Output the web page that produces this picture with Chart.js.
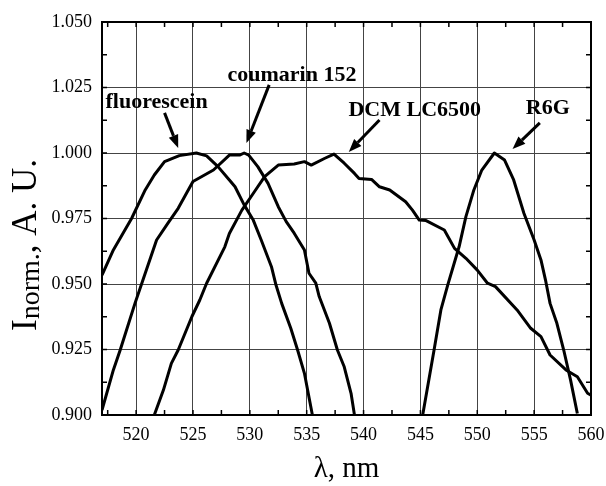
<!DOCTYPE html>
<html lang="en">

<head>
  <meta charset="UTF-8">
  <title>Normalized emission spectra</title>
  <script src="https://cdn.jsdelivr.net/npm/chart.js"></script>
  <style>
    body {
      margin: 0;
      background: #fff;
    }

    canvas {
      display: block;
    }
  </style>
</head>

<body>
  <canvas id="myChart" width="606" height="486"></canvas>

  <script>
    // wavelength (nm) / normalized intensity
    const fluoX = [517.0, 518.0, 519.6, 520.8, 521.6, 522.5, 523.8, 525.3, 526.2, 527.2, 528.2, 528.7, 529.5, 530.3, 531.0, 531.9, 532.3, 532.8, 533.6, 534.2, 534.8, 535.5];
    const fluoY = [0.9534, 0.963, 0.975, 0.9859, 0.9916, 0.9967, 0.999, 1.000, 0.9989, 0.9948, 0.9897, 0.9871, 0.9802, 0.9744, 0.9668, 0.9566, 0.9496, 0.9426, 0.9331, 0.9248, 0.9159, 0.900];

    const coumX = [517.0, 518.0, 518.6, 519.9, 520.6, 521.8, 522.8, 523.7, 525.0, 526.8, 528.2, 529.1, 529.5, 529.9, 530.7, 531.6, 532.5, 533.2, 533.9, 534.8, 535.2, 535.8, 536.1, 537.0, 537.7, 538.3, 538.9, 539.2];
    const coumY = [0.9019, 0.9172, 0.9248, 0.9426, 0.9515, 0.9668, 0.9732, 0.9789, 0.9891, 0.9935, 0.9992, 0.9992, 1.000, 0.9992, 0.9948, 0.9884, 0.9795, 0.9738, 0.9694, 0.963, 0.9541, 0.9503, 0.9452, 0.935, 0.9248, 0.9184, 0.9083, 0.900];

    const dcmX = [521.6, 522.4, 523.1, 523.7, 524.9, 525.6, 526.2, 527.8, 528.2, 529.3, 530.4, 531.3, 532.5, 533.9, 534.8, 535.4, 536.6, 537.4, 538.3, 539.2, 539.6, 540.7, 541.4, 542.3, 543.7, 544.3, 544.9, 545.5, 547.1, 548.0, 549.0, 550.0, 550.9, 551.6, 553.5, 554.7, 555.6, 556.4, 557.8, 558.8, 559.7, 560.0];
    const dcmY = [0.900, 0.9095, 0.9197, 0.9248, 0.9375, 0.9439, 0.9503, 0.9642, 0.9693, 0.9782, 0.9852, 0.991, 0.9954, 0.9958, 0.9967, 0.9954, 0.998, 0.9996, 0.9961, 0.9922, 0.9903, 0.9899, 0.9871, 0.9859, 0.9814, 0.9782, 0.9744, 0.9742, 0.9706, 0.9636, 0.9598, 0.9553, 0.9503, 0.949, 0.9401, 0.9331, 0.9299, 0.9229, 0.9172, 0.9146, 0.9083, 0.9076];

    const r6gX = [545.2, 546.2, 546.8, 547.4, 548.4, 549.0, 549.7, 550.4, 551.5, 552.4, 553.2, 554.1, 555.0, 555.6, 556.0, 556.4, 557.0, 557.6, 558.2, 558.8];
    const r6gY = [0.900, 0.9248, 0.9401, 0.9496, 0.9642, 0.9757, 0.9859, 0.9935, 1.000, 0.9973, 0.9897, 0.977, 0.9668, 0.9592, 0.9515, 0.9426, 0.935, 0.9248, 0.9134, 0.9006];

    const xTicks = [520, 525, 530, 535, 540, 545, 550, 555, 560];
    const yTicks = [0.900, 0.925, 0.950, 0.975, 1.000, 1.025, 1.050];

    // labels with arrows (data units)
    const labelText = ['fluorescein', 'coumarin 152', 'DCM LC6500', 'R6G'];
    const labelX = [521.8, 533.7, 544.5, 556.2];
    const labelY = [1.0195, 1.0298, 1.0164, 1.0172];
    const arrowFromX = [522.5, 531.7, 541.4, 555.5];
    const arrowFromY = [1.0153, 1.026, 1.0126, 1.0115];
    const arrowToX = [523.7, 529.7, 538.7, 553.1];
    const arrowToY = [1.0019, 1.0038, 1.0004, 1.0015];

    const serif = "'Liberation Serif', 'Times New Roman', serif";

    const pts = (xs, ys) => xs.map((x, i) => ({ x: x, y: ys[i] }));
    const line = (label, xs, ys) => ({
      label: label,
      data: pts(xs, ys),
      showLine: true,
      borderColor: '#000',
      borderWidth: 3,
      pointRadius: 0,
      tension: 0,
      borderJoinStyle: 'round'
    });

    // frame, inward ticks, axis titles and arrow labels
    const decor = {
      id: 'decor',
      afterDraw(chart) {
        const { ctx, chartArea: a, scales: { x, y } } = chart;
        ctx.save();

        // inward ticks on all four sides
        ctx.strokeStyle = '#000';
        ctx.lineWidth = 1.5;
        for (let v = 517.5; v < 560; v += 2.5) {
          const px = x.getPixelForValue(v);
          ctx.beginPath();
          ctx.moveTo(px, a.bottom); ctx.lineTo(px, a.bottom - 5);
          ctx.moveTo(px, a.top); ctx.lineTo(px, a.top + 5);
          ctx.stroke();
        }
        for (let v = 0.9125; v < 1.05; v += 0.0125) {
          const py = y.getPixelForValue(v);
          ctx.beginPath();
          ctx.moveTo(a.left, py); ctx.lineTo(a.left + 5, py);
          ctx.moveTo(a.right, py); ctx.lineTo(a.right - 5, py);
          ctx.stroke();
        }

        ctx.lineWidth = 2;
        ctx.strokeRect(a.left, a.top, a.right - a.left, a.bottom - a.top);

        // arrows
        ctx.fillStyle = '#000';
        labelText.forEach((t, i) => {
          const x0 = x.getPixelForValue(arrowFromX[i]), y0 = y.getPixelForValue(arrowFromY[i]);
          const x1 = x.getPixelForValue(arrowToX[i]), y1 = y.getPixelForValue(arrowToY[i]);
          const ang = Math.atan2(y1 - y0, x1 - x0);
          const hl = 13, hw = 5;
          const bx = x1 - hl * Math.cos(ang), by = y1 - hl * Math.sin(ang);
          ctx.lineWidth = 3;
          ctx.beginPath();
          ctx.moveTo(x0, y0); ctx.lineTo(bx, by);
          ctx.stroke();
          ctx.beginPath();
          ctx.moveTo(x1, y1);
          ctx.lineTo(bx + hw * Math.sin(ang), by - hw * Math.cos(ang));
          ctx.lineTo(bx - hw * Math.sin(ang), by + hw * Math.cos(ang));
          ctx.closePath();
          ctx.fill();

          ctx.font = 'bold 22px ' + serif;
          ctx.textAlign = 'center';
          ctx.textBaseline = 'middle';
          ctx.fillText(t, x.getPixelForValue(labelX[i]), y.getPixelForValue(labelY[i]));
        });

        // x title
        ctx.font = '29px ' + serif;
        ctx.textAlign = 'center';
        ctx.textBaseline = 'alphabetic';
        ctx.fillText('\u03bb, nm', (a.left + a.right) / 2, 477);

        // y title with subscript
        ctx.translate(36, 331);
        ctx.rotate(-Math.PI / 2);
        ctx.textAlign = 'left';
        let cx = 0;
        ctx.font = '35px ' + serif;
        ctx.fillText('I', cx, 0);
        cx += ctx.measureText('I').width;
        ctx.font = '28px ' + serif;
        ctx.fillText('norm.', cx, 3);
        cx += ctx.measureText('norm.').width;
        ctx.font = '35px ' + serif;
        ctx.fillText(', A. U.', cx, 0);

        ctx.restore();
      }
    };

    new Chart(document.getElementById('myChart'), {
      type: 'scatter',
      data: {
        datasets: [
          line('fluorescein', fluoX, fluoY),
          line('coumarin 152', coumX, coumY),
          line('DCM LC6500', dcmX, dcmY),
          line('R6G', r6gX, r6gY)
        ]
      },
      options: {
        responsive: false,
        animation: false,
        layout: { padding: { top: 22, right: 15, left: 0, bottom: 0 } },
        plugins: {
          legend: { display: false },
          tooltip: { enabled: false }
        },
        scales: {
          x: {
            type: 'linear',
            min: 517,
            max: 560,
            afterBuildTicks: s => { s.ticks = xTicks.map(v => ({ value: v })); },
            afterFit: s => { s.height = 71; s.paddingLeft = 0; s.paddingRight = 0; },
            grid: { color: '#444', lineWidth: 1, drawTicks: false },
            border: { display: false },
            ticks: {
              color: '#000',
              padding: 9,
              maxRotation: 0,
              font: { family: serif, size: 18 },
              callback: v => v
            }
          },
          y: {
            min: 0.9,
            max: 1.05,
            afterBuildTicks: s => { s.ticks = yTicks.map(v => ({ value: v })); },
            afterFit: s => { s.width = 102; s.paddingTop = 0; s.paddingBottom = 0; },
            grid: { color: '#444', lineWidth: 1, drawTicks: false },
            border: { display: false },
            ticks: {
              color: '#000',
              padding: 10,
              font: { family: serif, size: 18 },
              callback: v => Number(v).toFixed(3)
            }
          }
        }
      },
      plugins: [decor]
    });
  </script>
</body>

</html>
